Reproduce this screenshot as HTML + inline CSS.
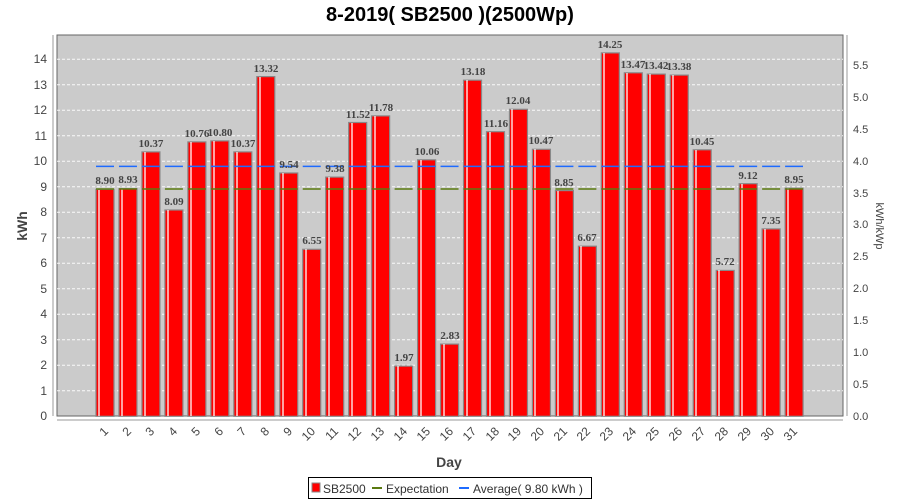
<!DOCTYPE html>
<html><head><meta charset="utf-8"><style>body{margin:0;background:#fff}svg{display:block;font-family:"Liberation Sans",sans-serif}</style></head><body>
<svg width="900" height="500" xmlns="http://www.w3.org/2000/svg">
<text x="450" y="21" text-anchor="middle" font-size="20" font-weight="bold" fill="#000">8-2019( SB2500 )(2500Wp)</text>
<rect x="57" y="35" width="786" height="381" fill="#cbcbcb" stroke="#666" stroke-width="1"/>
<g stroke="#fff" stroke-dasharray="3,2" stroke-width="1" opacity="0.9">
<line x1="57" x2="843" y1="390.8" y2="390.8"/><line x1="57" x2="843" y1="365.3" y2="365.3"/><line x1="57" x2="843" y1="339.8" y2="339.8"/><line x1="57" x2="843" y1="314.3" y2="314.3"/><line x1="57" x2="843" y1="288.8" y2="288.8"/><line x1="57" x2="843" y1="263.3" y2="263.3"/><line x1="57" x2="843" y1="237.8" y2="237.8"/><line x1="57" x2="843" y1="212.3" y2="212.3"/><line x1="57" x2="843" y1="186.8" y2="186.8"/><line x1="57" x2="843" y1="161.3" y2="161.3"/><line x1="57" x2="843" y1="135.8" y2="135.8"/><line x1="57" x2="843" y1="110.3" y2="110.3"/><line x1="57" x2="843" y1="84.8" y2="84.8"/><line x1="57" x2="843" y1="59.3" y2="59.3"/>
</g>
<g fill="#ff0000" stroke="#888" stroke-width="1.2">
<rect x="96" y="189.35" width="18" height="226.95"/>
<rect x="118.97" y="188.6" width="18" height="227.7"/>
<rect x="141.94" y="151.9" width="18" height="264.4"/>
<rect x="164.91" y="210" width="18" height="206.3"/>
<rect x="187.88" y="141.9" width="18" height="274.4"/>
<rect x="210.85" y="140.9" width="18" height="275.4"/>
<rect x="233.82" y="151.9" width="18" height="264.4"/>
<rect x="256.79" y="76.6" width="18" height="339.7"/>
<rect x="279.76" y="173" width="18" height="243.3"/>
<rect x="302.73" y="249.3" width="18" height="167"/>
<rect x="325.7" y="177.1" width="18" height="239.2"/>
<rect x="348.67" y="122.5" width="18" height="293.8"/>
<rect x="371.64" y="115.9" width="18" height="300.4"/>
<rect x="394.61" y="366.1" width="18" height="50.2"/>
<rect x="417.58" y="159.8" width="18" height="256.5"/>
<rect x="440.55" y="344.1" width="18" height="72.2"/>
<rect x="463.52" y="80.2" width="18" height="336.1"/>
<rect x="486.49" y="131.7" width="18" height="284.6"/>
<rect x="509.46" y="109.3" width="18" height="307"/>
<rect x="532.43" y="149.3" width="18" height="267"/>
<rect x="555.4" y="190.6" width="18" height="225.7"/>
<rect x="578.37" y="246.2" width="18" height="170.1"/>
<rect x="601.34" y="52.9" width="18" height="363.4"/>
<rect x="624.31" y="72.8" width="18" height="343.5"/>
<rect x="647.28" y="74.1" width="18" height="342.2"/>
<rect x="670.25" y="75.1" width="18" height="341.2"/>
<rect x="693.22" y="149.8" width="18" height="266.5"/>
<rect x="716.19" y="270.4" width="18" height="145.9"/>
<rect x="739.16" y="183.7" width="18" height="232.6"/>
<rect x="762.13" y="228.9" width="18" height="187.4"/>
<rect x="785.1" y="188.1" width="18" height="228.2"/>
</g>
<g stroke="#fff" stroke-width="1.5" opacity="0.85">
<line x1="99" x2="99" y1="190" y2="416"/><line x1="122" x2="122" y1="189" y2="416"/><line x1="145" x2="145" y1="152" y2="416"/><line x1="168" x2="168" y1="210" y2="416"/><line x1="191" x2="191" y1="142" y2="416"/><line x1="214" x2="214" y1="141" y2="416"/><line x1="237" x2="237" y1="152" y2="416"/><line x1="260" x2="260" y1="77" y2="416"/><line x1="283" x2="283" y1="173" y2="416"/><line x1="306" x2="306" y1="249" y2="416"/><line x1="329" x2="329" y1="177" y2="416"/><line x1="352" x2="352" y1="123" y2="416"/><line x1="375" x2="375" y1="116" y2="416"/><line x1="398" x2="398" y1="366" y2="416"/><line x1="421" x2="421" y1="160" y2="416"/><line x1="444" x2="444" y1="344" y2="416"/><line x1="467" x2="467" y1="80" y2="416"/><line x1="490" x2="490" y1="132" y2="416"/><line x1="512" x2="512" y1="109" y2="416"/><line x1="535" x2="535" y1="149" y2="416"/><line x1="558" x2="558" y1="191" y2="416"/><line x1="581" x2="581" y1="246" y2="416"/><line x1="604" x2="604" y1="53" y2="416"/><line x1="627" x2="627" y1="73" y2="416"/><line x1="650" x2="650" y1="74" y2="416"/><line x1="673" x2="673" y1="75" y2="416"/><line x1="696" x2="696" y1="150" y2="416"/><line x1="719" x2="719" y1="270" y2="416"/><line x1="742" x2="742" y1="184" y2="416"/><line x1="765" x2="765" y1="229" y2="416"/><line x1="788" x2="788" y1="188" y2="416"/>
</g>
<line x1="96" x2="803" y1="189" y2="189" stroke="#5a7a10" stroke-width="1.5" stroke-dasharray="18,4.97"/>
<line x1="96" x2="803" y1="166.4" y2="166.4" stroke="#1e6bff" stroke-width="1.5" stroke-dasharray="18,4.97"/>
<g font-family="'Liberation Serif',serif" font-weight="bold" font-size="11" fill="#444" text-anchor="middle">
<text x="105" y="184">8.90</text><text x="128" y="183">8.93</text><text x="151" y="147">10.37</text><text x="174" y="205">8.09</text><text x="197" y="137">10.76</text><text x="220" y="136">10.80</text><text x="243" y="147">10.37</text><text x="266" y="72">13.32</text><text x="289" y="168">9.54</text><text x="312" y="244">6.55</text><text x="335" y="172">9.38</text><text x="358" y="118">11.52</text><text x="381" y="111">11.78</text><text x="404" y="361">1.97</text><text x="427" y="155">10.06</text><text x="450" y="339">2.83</text><text x="473" y="75">13.18</text><text x="496" y="127">11.16</text><text x="518" y="104">12.04</text><text x="541" y="144">10.47</text><text x="564" y="186">8.85</text><text x="587" y="241">6.67</text><text x="610" y="48">14.25</text><text x="633" y="68">13.47</text><text x="656" y="69">13.42</text><text x="679" y="70">13.38</text><text x="702" y="145">10.45</text><text x="725" y="265">5.72</text><text x="748" y="179">9.12</text><text x="771" y="224">7.35</text><text x="794" y="183">8.95</text>
</g>
<g stroke="#999" stroke-width="1">
<line x1="53" x2="53" y1="35" y2="416"/><line x1="57" x2="843" y1="420" y2="420"/><line x1="847" x2="847" y1="35" y2="416"/>
</g>
<g font-size="12" fill="#444" text-anchor="end">
<text x="47" y="420">0</text><text x="47" y="395">1</text><text x="47" y="369">2</text><text x="47" y="344">3</text><text x="47" y="318">4</text><text x="47" y="293">5</text><text x="47" y="267">6</text><text x="47" y="242">7</text><text x="47" y="216">8</text><text x="47" y="191">9</text><text x="47" y="165">10</text><text x="47" y="140">11</text><text x="47" y="114">12</text><text x="47" y="89">13</text><text x="47" y="63">14</text>
</g>
<g font-size="11" fill="#444">
<text x="853" y="420">0.0</text><text x="853" y="388">0.5</text><text x="853" y="356">1.0</text><text x="853" y="324">1.5</text><text x="853" y="292">2.0</text><text x="853" y="260">2.5</text><text x="853" y="228">3.0</text><text x="853" y="197">3.5</text><text x="853" y="165">4.0</text><text x="853" y="133">4.5</text><text x="853" y="101">5.0</text><text x="853" y="69">5.5</text>
</g>
<g font-size="12" fill="#444" text-anchor="end">
<text transform="translate(109,432) rotate(-45)">1</text><text transform="translate(132,432) rotate(-45)">2</text><text transform="translate(155,432) rotate(-45)">3</text><text transform="translate(178,432) rotate(-45)">4</text><text transform="translate(201,432) rotate(-45)">5</text><text transform="translate(224,432) rotate(-45)">6</text><text transform="translate(247,432) rotate(-45)">7</text><text transform="translate(270,432) rotate(-45)">8</text><text transform="translate(293,432) rotate(-45)">9</text><text transform="translate(316,432) rotate(-45)">10</text><text transform="translate(339,432) rotate(-45)">11</text><text transform="translate(362,432) rotate(-45)">12</text><text transform="translate(385,432) rotate(-45)">13</text><text transform="translate(408,432) rotate(-45)">14</text><text transform="translate(431,432) rotate(-45)">15</text><text transform="translate(454,432) rotate(-45)">16</text><text transform="translate(477,432) rotate(-45)">17</text><text transform="translate(500,432) rotate(-45)">18</text><text transform="translate(522,432) rotate(-45)">19</text><text transform="translate(545,432) rotate(-45)">20</text><text transform="translate(568,432) rotate(-45)">21</text><text transform="translate(591,432) rotate(-45)">22</text><text transform="translate(614,432) rotate(-45)">23</text><text transform="translate(637,432) rotate(-45)">24</text><text transform="translate(660,432) rotate(-45)">25</text><text transform="translate(683,432) rotate(-45)">26</text><text transform="translate(706,432) rotate(-45)">27</text><text transform="translate(729,432) rotate(-45)">28</text><text transform="translate(752,432) rotate(-45)">29</text><text transform="translate(775,432) rotate(-45)">30</text><text transform="translate(798,432) rotate(-45)">31</text>
</g>
<text x="449" y="467" text-anchor="middle" font-size="14" font-weight="bold" fill="#444">Day</text>
<text transform="translate(27,226) rotate(-90)" text-anchor="middle" font-size="14" font-weight="bold" fill="#444">kWh</text>
<text transform="translate(876,226) rotate(90)" text-anchor="middle" font-size="11" fill="#444">kWh/kWp</text>
<rect x="308.5" y="477.5" width="283" height="21" fill="#fff" stroke="#000"/>
<rect x="312" y="483" width="8" height="9" fill="#ff0000" stroke="#888"/>
<text x="323" y="493" font-size="12" fill="#333">SB2500</text>
<line x1="372" x2="382" y1="488" y2="488" stroke="#5a7a10" stroke-width="2"/>
<text x="386" y="493" font-size="12" fill="#333">Expectation</text>
<line x1="459" x2="469" y1="488" y2="488" stroke="#1e6bff" stroke-width="2"/>
<text x="473" y="493" font-size="12" fill="#333">Average( 9.80 kWh )</text>
</svg>
</body></html>
